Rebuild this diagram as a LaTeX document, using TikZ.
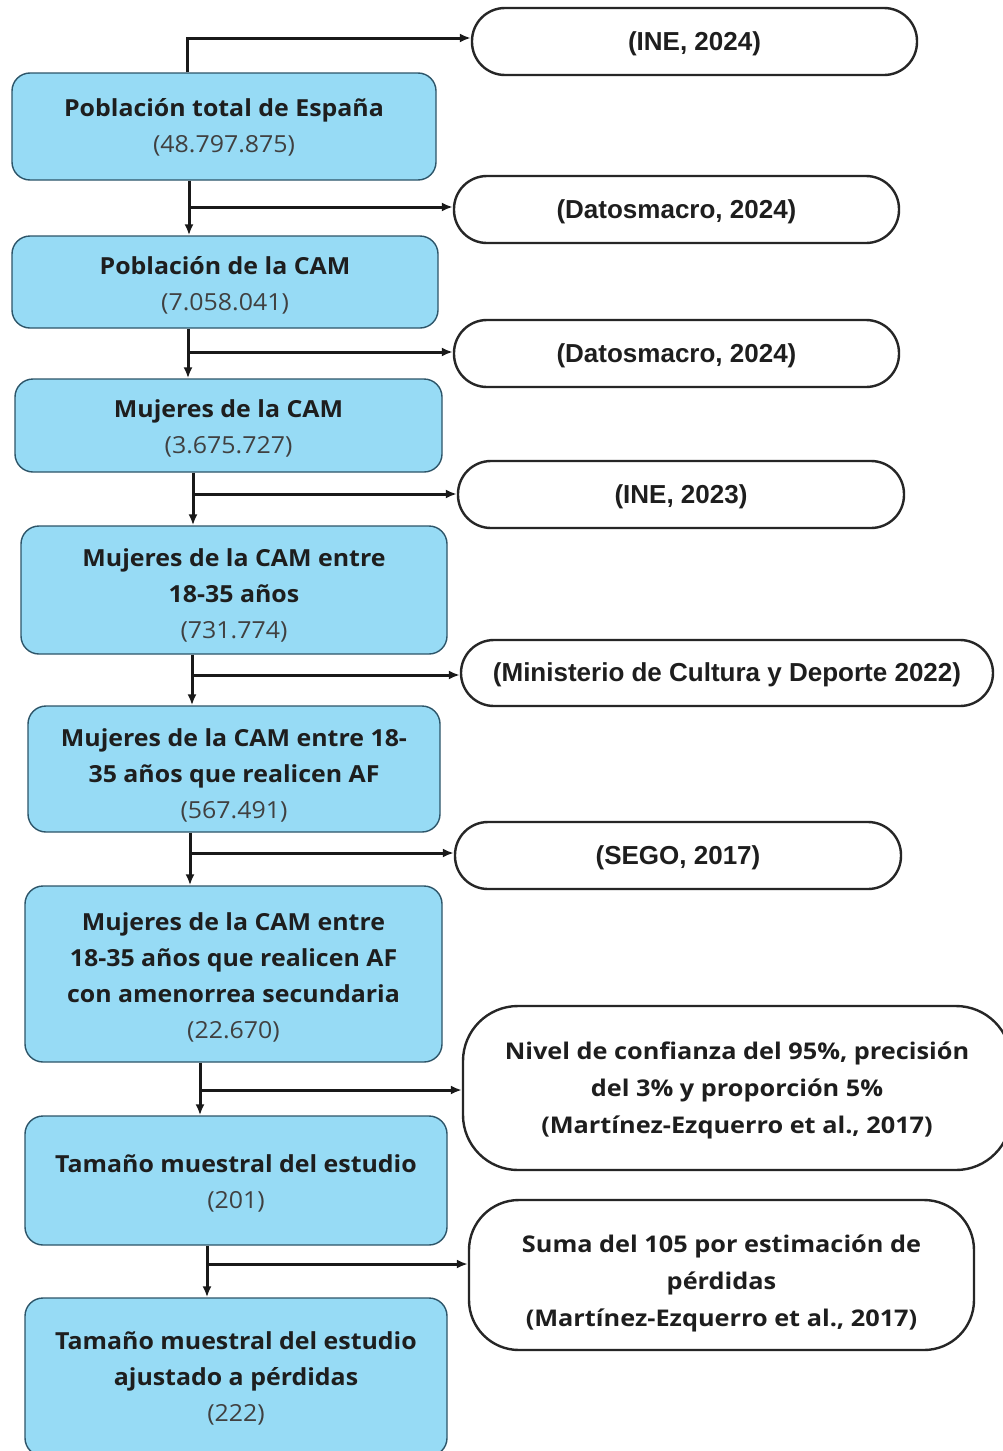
\documentclass[tikz,border=0pt]{standalone}
\usepackage{fontspec}
\setmainfont{Open Sans}
\newfontfamily\bluef[FakeStretch=1.06]{Open Sans}
\newfontfamily\nivf[FakeStretch=1.1]{Open Sans}
\newfontfamily\arialf{Liberation Sans}
\usetikzlibrary{arrows.meta}
\definecolor{boxblue}{RGB}{151,219,245}
\definecolor{boxedge}{RGB}{45,85,105}
\definecolor{txt}{RGB}{30,30,30}
\newcommand{\ctext}[2]{\raisebox{#1}[\height][\depth]{\begin{tabular}{@{}c@{}}#2\end{tabular}}}
\tikzset{
  bluebox/.style={draw=boxedge, line width=1.4pt, fill=boxblue, rounded corners=18pt,
    align=center, text=txt, inner sep=0pt, font=\bluef\fontsize{23.5}{36}\selectfont},
  srcbox/.style={draw=black!85, line width=2.4pt, fill=white, rounded corners=33pt,
    align=center, text=txt, inner sep=0pt, font=\arialf\bfseries\fontsize{26}{36}\selectfont},
  bigsrc/.style={draw=black!85, line width=2.4pt, fill=white, rounded corners=55pt,
    align=center, text=txt, inner sep=0pt, font=\nivf\bfseries\fontsize{23}{37}\selectfont},
  arr/.style={line width=3pt, draw=black!90, -{Latex[length=11pt,width=9pt]}},
}
\newcommand{\numtxt}[1]{{\mdseries\color{txt!85}#1}}
\begin{document}
\begin{tikzpicture}[x=1pt,y=-1pt]
\useasboundingbox (0,0) rectangle (1002,1451);
\fill[white] (0,0) rectangle (1002,1451);

% left column
\node[bluebox, minimum width=424pt, minimum height=107pt] (b1) at (224,126.5)
  {\ctext{-1pt}{\bfseries Población total de España\\ \numtxt{(48.797.875)}}};
\node[bluebox, minimum width=426pt, minimum height=92pt] (b2) at (225,282)
  {\ctext{-3pt}{\bfseries Población de la CAM\\ \numtxt{(7.058.041)}}};
\node[bluebox, minimum width=427pt, minimum height=93pt] (b3) at (228.5,425.5)
  {\ctext{-3pt}{\bfseries Mujeres de la CAM\\ \numtxt{(3.675.727)}}};
\node[bluebox, minimum width=426pt, minimum height=128pt] (b4) at (234,590)
  {\ctext{-5pt}{\bfseries Mujeres de la CAM entre\\ \bfseries 18-35 años\\ \numtxt{(731.774)}}};
\node[bluebox, minimum width=412pt, minimum height=126pt] (b5) at (234,769)
  {\ctext{-6pt}{\bfseries Mujeres de la CAM entre 18-\\ \bfseries 35 años que realicen AF\\ \numtxt{(567.491)}}};
\node[bluebox, minimum width=417pt, minimum height=176pt] (b6) at (233.5,974)
  {\ctext{-3pt}{\bfseries Mujeres de la CAM entre\\ \bfseries 18-35 años que realicen AF\\ \bfseries con amenorrea secundaria\\ \numtxt{(22.670)}}};
\node[bluebox, minimum width=422pt, minimum height=129pt] (b7) at (236,1180.5)
  {\ctext{-3pt}{\bfseries Tamaño muestral del estudio\\ \numtxt{(201)}}};
\node[bluebox, minimum width=422pt, minimum height=158pt] (b8) at (236,1377)
  {\ctext{-1pt}{\bfseries Tamaño muestral del estudio\\ \bfseries ajustado a pérdidas\\ \numtxt{(222)}}};

% right column
\node[srcbox, minimum width=445pt, minimum height=67pt] (r1) at (694.5,41.5) {\ctext{-2pt}{(INE, 2024)}};
\node[srcbox, minimum width=445pt, minimum height=67pt] (r2) at (676.5,209.5) {\ctext{-2pt}{(Datosmacro, 2024)}};
\node[srcbox, minimum width=445pt, minimum height=67pt] (r3) at (676.5,353.5) {\ctext{-2pt}{(Datosmacro, 2024)}};
\node[srcbox, minimum width=446pt, minimum height=67pt] (r4) at (681,494.5) {\ctext{-2pt}{(INE, 2023)}};
\node[srcbox, minimum width=532pt, minimum height=66pt] (r5) at (727,673) {\ctext{-1pt}{(Ministerio de Cultura y Deporte 2022)}};
\node[srcbox, minimum width=446pt, minimum height=67pt] (r6) at (678,855.5) {\ctext{-2pt}{(SEGO, 2017)}};
\node[bigsrc, minimum width=548pt, minimum height=164pt] (r7) at (737,1088)
  {\ctext{-1pt}{Nivel de confianza del 95\%, precisión\\ del 3\% y proporción 5\%\\ (Martínez-Ezquerro et al., 2017)}};
\node[bigsrc, minimum width=505pt, minimum height=150pt, rounded corners=50pt] (r8) at (721.5,1275)
  {\ctext{-7pt}{Suma del 105 por estimación de\\ pérdidas\\ (Martínez-Ezquerro et al., 2017)}};

% connectors
\coordinate (j0) at (187,38);
\draw[arr] (b1.north -| j0) |- (r1.west |- j0);

\coordinate (j1) at (189,207);
\coordinate (j2) at (188,352);
\coordinate (j3) at (193,494);
\coordinate (j4) at (192,675);
\coordinate (j5) at (190,853);
\coordinate (j6) at (200,1090);
\coordinate (j7) at (207,1264);

\draw[arr] (b1.south -| j1) -- (b2.north -| j1);
\draw[arr] (j1) -- (r2.west |- j1);
\draw[arr] (b2.south -| j2) -- (b3.north -| j2);
\draw[arr] (j2) -- (r3.west |- j2);
\draw[arr] (b3.south -| j3) -- (b4.north -| j3);
\draw[arr] (j3) -- (r4.west |- j3);
\draw[arr] (b4.south -| j4) -- (b5.north -| j4);
\draw[arr] (j4) -- (r5.west |- j4);
\draw[arr] (b5.south -| j5) -- (b6.north -| j5);
\draw[arr] (j5) -- (r6.west |- j5);
\draw[arr] (b6.south -| j6) -- (b7.north -| j6);
\draw[arr] (j6) -- (r7.west |- j6);
\draw[arr] (b7.south -| j7) -- (b8.north -| j7);
\draw[arr] (j7) -- (r8.west |- j7);
\end{tikzpicture}
\end{document}
